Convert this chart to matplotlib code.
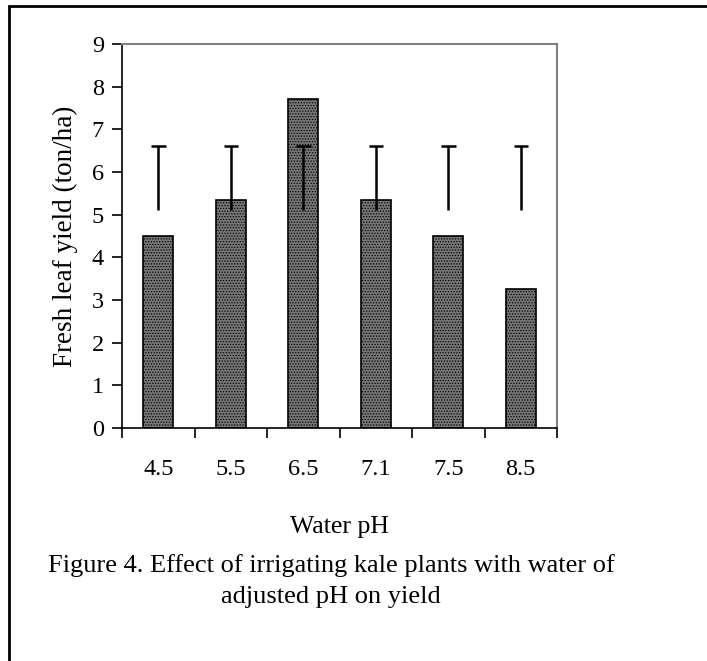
import numpy as np
import matplotlib
matplotlib.use("Agg")
import matplotlib.pyplot as plt
from matplotlib.patches import Rectangle

# data
ph_labels = ["4.5", "5.5", "6.5", "7.1", "7.5", "8.5"]
yield_vals = [4.5, 5.35, 7.7, 5.35, 4.5, 3.25]
err_low = [5.1, 5.1, 5.1, 5.1, 5.1, 5.1]
err_high = [6.6, 6.6, 6.6, 6.6, 6.6, 6.6]

plt.rcParams['font.family'] = ['Liberation Serif', 'DejaVu Serif']
plt.rcParams['hatch.linewidth'] = 0.6

fig = plt.figure(figsize=(7.07, 6.61), dpi=100)
ax = fig.add_axes([122/707, 1-428/661, (557-122)/707, (428-44)/661])

x = np.arange(len(ph_labels))
ax.bar(x, yield_vals, width=0.41, color='#777777', edgecolor='black',
       hatch='......', linewidth=1.2, zorder=2)

# error bars: only the upper cap is drawn
ax.vlines(x, err_low, err_high, color='black', linewidth=1.8, zorder=3)
ax.hlines(err_high, x - 0.1, x + 0.1, color='black', linewidth=1.8, zorder=3)

ax.set_xlim(-0.5, len(ph_labels) - 0.5)
ax.set_ylim(0, 9)
ax.set_yticks(range(0, 10))
ax.set_xticks(x)
ax.set_xticklabels(ph_labels)
ax.set_xticks(np.arange(-0.5, len(ph_labels), 1), minor=True)
ax.tick_params(axis='x', which='major', length=0, pad=22, labelsize=17.5)
ax.tick_params(axis='x', which='minor', length=7, width=1.2, direction='out')
ax.tick_params(axis='y', length=7, width=1.2, direction='out', pad=6, labelsize=17.5)

for s in ['top', 'right']:
    ax.spines[s].set_color('#808080')
    ax.spines[s].set_linewidth(1.5)
for s in ['left', 'bottom']:
    ax.spines[s].set_linewidth(1.2)

ax.set_ylabel("Fresh leaf yield (ton/ha)", fontsize=19.5, labelpad=10)
ax.set_xlabel("Water pH", fontsize=18.5, labelpad=26)

fig.text(331/707, 1-566/661, "Figure 4. Effect of irrigating kale plants with water of",
         ha='center', va='center', fontsize=19)
fig.text(331/707, 1-597/661, "adjusted pH on yield",
         ha='center', va='center', fontsize=19)

# outer frame
fig.patches.append(Rectangle((9/707, -0.1), 1.0, 1 - 6/661 + 0.1,
                             transform=fig.transFigure, fill=False,
                             edgecolor='black', linewidth=2))

fig.savefig("out.png", dpi=100)
